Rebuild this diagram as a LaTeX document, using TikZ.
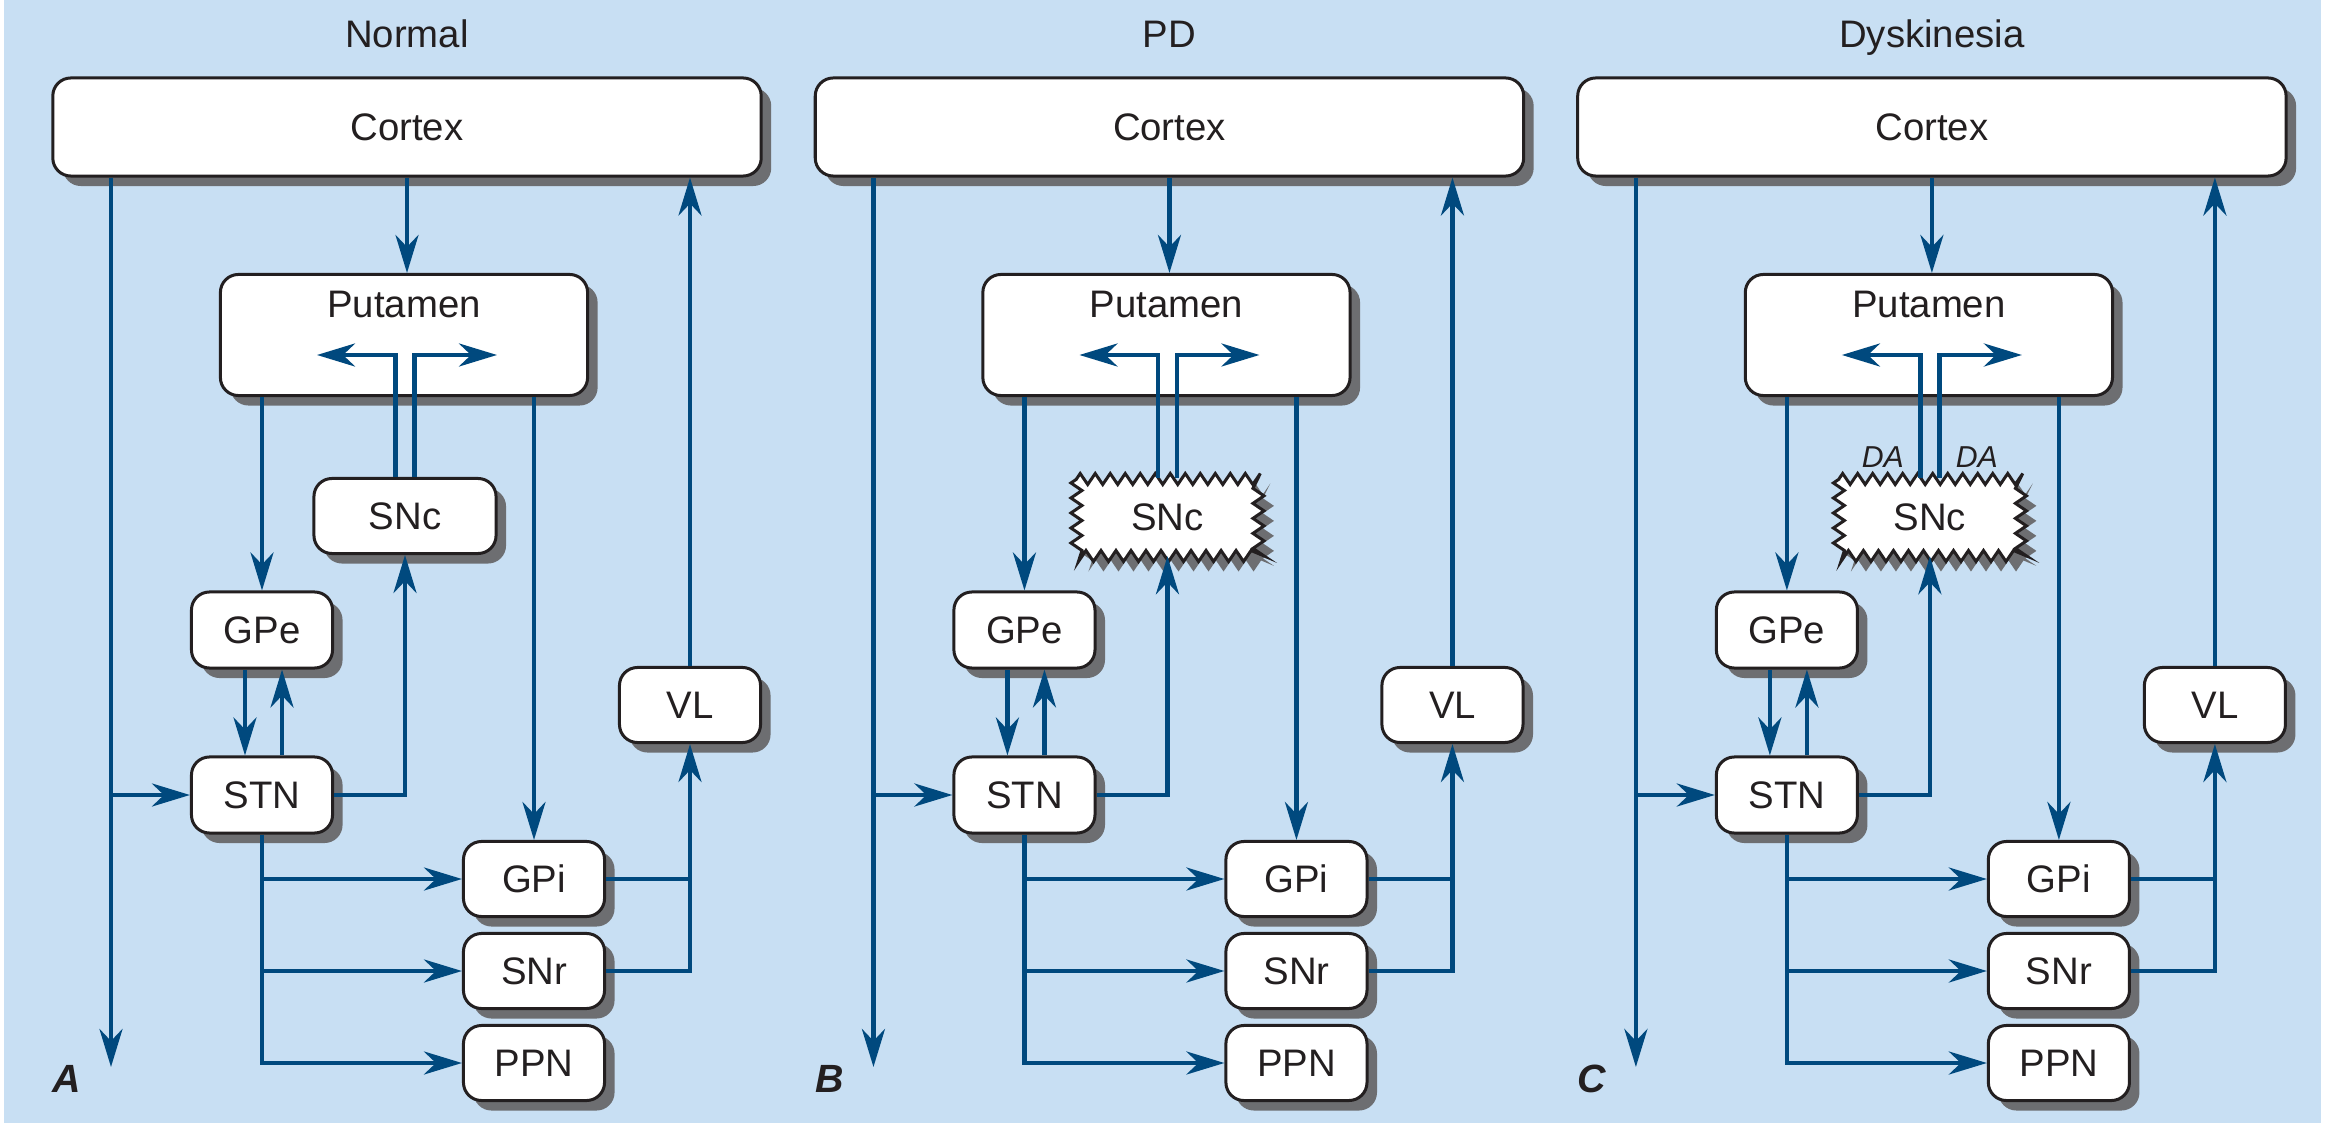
\documentclass[tikz,border=0pt]{standalone}
\usepackage{fontspec}
\setmainfont{Liberation Sans}
\usetikzlibrary{arrows.meta,shadows,decorations.pathmorphing}
\definecolor{bgblue}{HTML}{C8DFF3}
\definecolor{pathblue}{HTML}{00497E}
\definecolor{shadowgray}{HTML}{6D6E71}
\definecolor{inkblack}{HTML}{231F20}
\tikzset{
  basefont/.style={font=\fontsize{10.9pt}{13pt}\selectfont, text=inkblack},
  region/.style={basefont, draw=inkblack, line width=0.03cm, fill=white,
    rounded corners=0.18cm, inner sep=0pt,
    drop shadow={shadow xshift=0.1cm, shadow yshift=-0.1cm, opacity=1, fill=shadowgray}},
  smallregion/.style={region, minimum width=1.41cm, minimum height=0.75cm},
  zigedge/.style={decorate, decoration={zigzag, segment length=0.15cm, amplitude=0.055cm}},
  pathline/.style={draw=pathblue, line width=0.045cm},
  pathlink/.style={pathline, -{Stealth[length=0.38cm, width=0.23cm, inset=0.12cm]}},
  dalabel/.style={font=\fontsize{8.6pt}{10pt}\selectfont\itshape, text=inkblack, inner sep=0pt},
  paneltag/.style={font=\fontsize{11.2pt}{13pt}\selectfont\bfseries\itshape, text=inkblack, inner sep=0pt}
}
\begin{document}
\begin{tikzpicture}[x=0.01cm, y=-0.01cm]
  \useasboundingbox (0,0) rectangle (2331,1134);
  \fill[bgblue] (4,0) rectangle (2321,1123);
  \foreach \i/\ttl/\tag in {0/Normal/A, 1/PD/B, 2/Dyskinesia/C}{
    \begin{scope}[xshift=\i*7.62cm]
      \node[basefont, anchor=base, inner sep=0pt] (title\tag) at (407,48) {\ttl};
      \node[region, minimum width=7.08cm, minimum height=0.98cm] (cortex\tag) at (407,127) {Cortex};
      \node[region, minimum width=3.67cm, minimum height=1.21cm] (putamen\tag) at (404,335) {};
      \node[basefont, anchor=base, inner sep=0pt] (putxt\tag) at (404,318) {Putamen};
      \ifnum\i=0
        \node[region, minimum width=1.82cm, minimum height=0.75cm] (snc\tag) at (405,516) {SNc};
      \else
        \fill[shadowgray, zigedge] (324,489) -- (506,489) -- (506,566) -- (324,566) -- cycle;
        \filldraw[fill=white, draw=inkblack, line width=0.03cm, zigedge]
          (314,479) -- (496,479) -- (496,556) -- (314,556) -- cycle;
        \node[basefont, inner sep=0pt, minimum width=1.82cm, minimum height=0.77cm] (snc\tag) at (405,517) {SNc};
      \fi
      \ifnum\i=2
        \node[dalabel, anchor=base] (dal\tag) at (358,468) {DA};
        \node[dalabel, anchor=base] (dar\tag) at (452,468) {DA};
      \fi
      \node[smallregion, minimum height=0.76cm] (gpe\tag) at (262,630) {GPe};
      \node[smallregion, minimum height=0.76cm] (stn\tag) at (262,795) {STN};
      \node[smallregion] (gpi\tag) at (534,879) {GPi};
      \node[smallregion] (snr\tag) at (534,971) {SNr};
      \node[smallregion] (ppn\tag) at (534,1063) {PPN};
      \node[smallregion] (vl\tag) at (690,705) {VL};
      \node[paneltag, anchor=base] (tag\tag) at (67,1092) {\tag};

      \coordinate (drop\tag) at (111,1067);
      \coordinate (dal\tag) at (317,355);
      \coordinate (dar\tag) at (497,355);
      \draw[pathlink] (cortex\tag.south -| drop\tag) -- (drop\tag);
      \draw[pathlink] (stn\tag.west -| drop\tag) -- (stn\tag.west);
      \draw[pathlink] (cortex\tag.south) -- (cortex\tag.south |- putamen\tag.north);
      \draw[pathlink] (vl\tag.north) -- (vl\tag.north |- cortex\tag.south);
      \draw[pathlink] ([xshift=-0.095cm]snc\tag.north) |- (dal\tag);
      \draw[pathlink] ([xshift=0.095cm]snc\tag.north) |- (dar\tag);
      \draw[pathlink] (putamen\tag.south -| gpe\tag.north) -- (gpe\tag.north);
      \draw[pathlink] (putamen\tag.south -| gpi\tag.north) -- (gpi\tag.north);
      \draw[pathlink] ([xshift=-0.17cm]gpe\tag.south) -- ([xshift=-0.17cm]stn\tag.north);
      \draw[pathlink] ([xshift=0.2cm]stn\tag.north) -- ([xshift=0.2cm]gpe\tag.south);
      \draw[pathlink] (stn\tag.east) -| (snc\tag.south);
      \draw[pathlink] (stn\tag.south) |- (ppn\tag.west);
      \draw[pathlink] (stn\tag.south |- gpi\tag.west) -- (gpi\tag.west);
      \draw[pathlink] (stn\tag.south |- snr\tag.west) -- (snr\tag.west);
      \draw[pathline] (gpi\tag.east) -- (gpi\tag.east -| vl\tag.south);
      \draw[pathlink] (snr\tag.east) -| (vl\tag.south);
    \end{scope}
  }
\end{tikzpicture}
\end{document}
